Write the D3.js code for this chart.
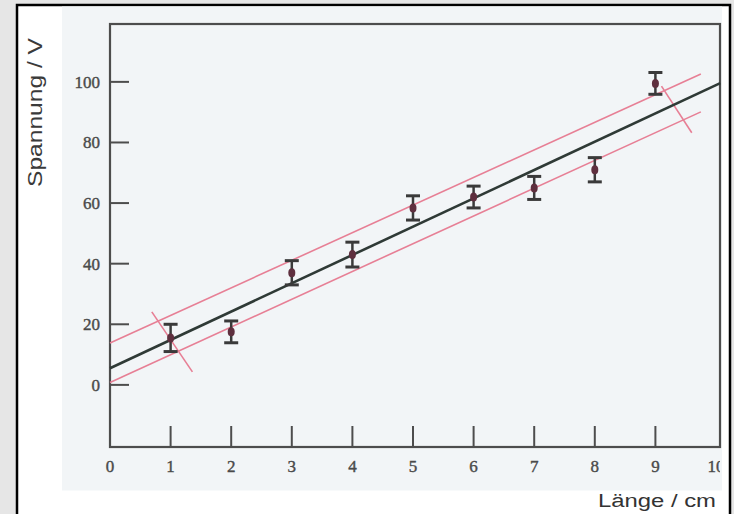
<!DOCTYPE html>
<html><head><meta charset="utf-8">
<script src="https://cdn.jsdelivr.net/npm/d3@7"></script>
<style>html,body{margin:0;padding:0;background:#e6e6e6;}svg{display:block;}</style>
</head><body>
<script>
// ---- data ----
const lengths = [1, 2, 3, 4, 5, 6, 7, 8, 9];
const voltages = [15.5, 17.5, 37, 43, 58.4, 62, 65, 71, 99.5];
const errors = [4.5, 3.6, 4, 4.1, 4, 3.6, 3.8, 4, 3.6];
const xTicks = [1, 2, 3, 4, 5, 6, 7, 8, 9];
const xTickLabels = [0, 1, 2, 3, 4, 5, 6, 7, 8, 9, 10];
const yTicks = [0, 20, 40, 60, 80, 100];
const fitLine = [[0, 5.5], [10.07, 99.6]];
const upperLine = [[0, 13.8], [9.75, 102.6]];
const lowerLine = [[0, 0.8], [9.75, 90.1]];
const crossA = [[0.69, 24.1], [1.36, 4.3]];
const crossB = [[9.1, 98.6], [9.6, 83.2]];

const W = 734, H = 514;
const svg = d3.select("body").append("svg").attr("width", W).attr("height", H);

// frame / backgrounds
svg.append("rect").attr("x", 0).attr("y", 0).attr("width", W).attr("height", H).attr("fill", "#e6e6e6");
svg.append("rect").attr("x", 17).attr("y", 5).attr("width", 713).attr("height", 520).attr("fill", "#ffffff")
  .attr("stroke", "#000").attr("stroke-width", 2.5);
svg.append("rect").attr("x", 62).attr("y", 6.5).attr("width", 660).attr("height", 484).attr("fill", "#f2f5f7");

const x = d3.scaleLinear().domain([0, 10]).range([110, 716]);
const y = d3.scaleLinear().domain([-20.5, 119.1]).range([447, 24]);
const x0 = x(0), x1 = 720, yT = y(119.1), yB = y(-20.5);

const ink = "#4d4d4d";
const g = svg.append("g");

// plot box
g.append("rect").attr("x", x0).attr("y", yT).attr("width", x1 - x0).attr("height", yB - yT)
  .attr("fill", "none").attr("stroke", ink).attr("stroke-width", 2.2);

const labFont = "Liberation Serif, serif";
// y ticks (inward)
g.selectAll(".yt").data(yTicks).join("line")
  .attr("x1", x0).attr("x2", x0 + 19).attr("y1", d => y(d)).attr("y2", d => y(d))
  .attr("stroke", ink).attr("stroke-width", 2);
g.selectAll(".yl").data(yTicks).join("text")
  .attr("x", 100).attr("y", d => y(d)).attr("dy", "0.35em").attr("text-anchor", "end")
  .attr("font-family", labFont).attr("font-size", 17).attr("fill", "#4a4a4a")
  .attr("stroke", "#4a4a4a").attr("stroke-width", 0.4)
  .text(d => d);

// x ticks (inward, upward)
g.selectAll(".xt").data(xTicks).join("line")
  .attr("x1", d => x(d)).attr("x2", d => x(d)).attr("y1", yB).attr("y2", yB - 21)
  .attr("stroke", ink).attr("stroke-width", 2);
svg.append("clipPath").attr("id", "cl").append("rect").attr("x", 0).attr("y", 0).attr("width", 720).attr("height", H);
g.append("g").attr("clip-path", "url(#cl)").selectAll("text").data(xTickLabels).join("text")
  .attr("x", d => x(d)).attr("y", 472).attr("text-anchor", "middle")
  .attr("font-family", labFont).attr("font-size", 17).attr("fill", "#4a4a4a")
  .attr("stroke", "#4a4a4a").attr("stroke-width", 0.4)
  .text(d => d);

// lines
const line = d3.line().x(d => x(d[0])).y(d => y(d[1]));
const pink = "#e77f95";
[upperLine, lowerLine, crossA, crossB].forEach(l => {
  g.append("path").attr("d", line(l)).attr("fill", "none").attr("stroke", pink).attr("stroke-width", 1.6);
});
g.append("path").attr("d", line(fitLine)).attr("fill", "none").attr("stroke", "#2f3a36").attr("stroke-width", 2.6);

// error bars
const pts = lengths.map((l, i) => ({l, v: voltages[i], e: errors[i]}));
const eb = g.selectAll(".eb").data(pts).join("g");
eb.append("line").attr("x1", d => x(d.l)).attr("x2", d => x(d.l))
  .attr("y1", d => y(d.v + d.e)).attr("y2", d => y(d.v - d.e)).attr("stroke", "#3a3a3a").attr("stroke-width", 2.5);
eb.append("line").attr("x1", d => x(d.l) - 7).attr("x2", d => x(d.l) + 7)
  .attr("y1", d => y(d.v + d.e)).attr("y2", d => y(d.v + d.e)).attr("stroke", "#3a3a3a").attr("stroke-width", 3);
eb.append("line").attr("x1", d => x(d.l) - 7).attr("x2", d => x(d.l) + 7)
  .attr("y1", d => y(d.v - d.e)).attr("y2", d => y(d.v - d.e)).attr("stroke", "#3a3a3a").attr("stroke-width", 3);
eb.append("ellipse").attr("cx", d => x(d.l)).attr("cy", d => y(d.v)).attr("rx", 3.5).attr("ry", 4.5)
  .attr("fill", "#5e2f3e");

// axis titles
svg.append("text").attr("transform", "translate(42,112.5) rotate(-90)").attr("text-anchor", "middle")
  .attr("font-family", "Liberation Sans, Arial, sans-serif").attr("font-size", 20).attr("fill", "#3a3a3a")
  .attr("textLength", 149).attr("lengthAdjust", "spacingAndGlyphs").text("Spannung / V");
svg.append("text").attr("x", 598).attr("y", 507)
  .attr("font-family", "Liberation Sans, Arial, sans-serif").attr("font-size", 18).attr("fill", "#333")
  .attr("textLength", 118).attr("lengthAdjust", "spacingAndGlyphs").text("Länge / cm");
</script>
</body></html>
